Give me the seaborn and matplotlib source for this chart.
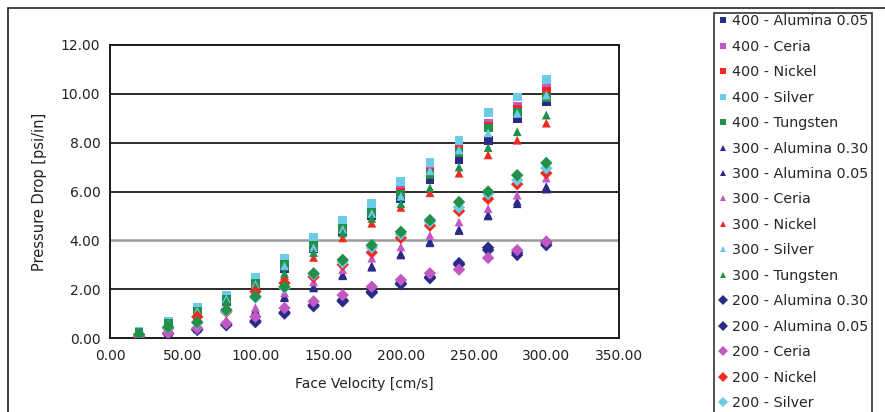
import matplotlib
matplotlib.use("Agg")
import matplotlib.pyplot as plt
import seaborn as sns
import pandas as pd
from matplotlib.patches import Rectangle

velocity = [20, 40, 60, 80, 100, 120, 140, 160, 180, 200, 220, 240, 260, 280, 300]

series_names = [
    "400 - Alumina 0.05", "400 - Ceria", "400 - Nickel", "400 - Silver", "400 - Tungsten",
    "300 - Alumina 0.30", "300 - Alumina 0.05", "300 - Ceria", "300 - Nickel", "300 - Silver", "300 - Tungsten",
    "200 - Alumina 0.30", "200 - Alumina 0.05", "200 - Ceria", "200 - Nickel", "200 - Silver", "200 - Tungsten",
]

s400_alumina005 = [0.22, 0.55, 1.05, 1.50, 2.15, 2.85, 3.65, 4.35, 5.00, 5.70, 6.50, 7.30, 8.10, 9.00, 9.70]
s400_ceria = [0.26, 0.65, 1.20, 1.70, 2.40, 3.15, 3.95, 4.65, 5.30, 6.10, 6.95, 7.90, 8.80, 9.50, 10.30]
s400_nickel = [0.25, 0.62, 1.15, 1.65, 2.30, 3.05, 3.85, 4.55, 5.20, 5.95, 6.80, 7.75, 8.65, 9.35, 10.10]
s400_silver = [0.28, 0.70, 1.27, 1.76, 2.50, 3.28, 4.10, 4.80, 5.50, 6.40, 7.20, 8.10, 9.25, 9.87, 10.60]
s400_tungsten = [0.24, 0.60, 1.10, 1.60, 2.25, 3.00, 3.80, 4.50, 5.15, 5.90, 6.70, 7.60, 8.60, 9.25, 9.85]
s300_alumina030 = [0.07, 0.22, 0.40, 0.70, 1.15, 1.70, 2.10, 2.60, 2.90, 3.40, 3.90, 4.40, 5.05, 5.50, 6.10]
s300_alumina005 = [0.06, 0.20, 0.38, 0.68, 1.10, 1.65, 2.05, 2.55, 2.95, 3.45, 3.95, 4.45, 5.00, 5.60, 6.20]
s300_ceria = [0.08, 0.25, 0.45, 0.75, 1.25, 1.85, 2.30, 2.80, 3.27, 3.73, 4.20, 4.75, 5.30, 5.85, 6.55]
s300_nickel = [0.20, 0.50, 0.90, 1.35, 1.90, 2.55, 3.30, 4.10, 4.70, 5.35, 5.95, 6.75, 7.50, 8.10, 8.80]
s300_silver = [0.24, 0.58, 1.10, 1.60, 2.20, 2.95, 3.70, 4.45, 5.10, 5.80, 6.85, 7.70, 8.40, 9.20, 9.95]
s300_tungsten = [0.22, 0.55, 1.00, 1.50, 2.10, 2.65, 3.50, 4.30, 4.90, 5.50, 6.15, 7.00, 7.80, 8.45, 9.13]
s200_alumina030 = [0.04, 0.18, 0.35, 0.55, 0.65, 1.00, 1.30, 1.50, 1.85, 2.20, 2.45, 3.07, 3.70, 3.40, 3.80]
s200_alumina005 = [0.04, 0.17, 0.33, 0.52, 0.70, 1.05, 1.35, 1.55, 1.90, 2.25, 2.50, 3.00, 3.60, 3.50, 3.90]
s200_ceria = [0.05, 0.20, 0.40, 0.60, 0.87, 1.23, 1.50, 1.76, 2.10, 2.38, 2.65, 2.80, 3.28, 3.60, 3.95]
s200_nickel = [0.13, 0.40, 0.87, 1.07, 1.90, 2.25, 2.50, 3.00, 3.50, 4.10, 4.60, 5.20, 5.70, 6.30, 6.75]
s200_silver = [0.14, 0.42, 0.62, 1.10, 1.65, 2.05, 2.60, 3.10, 3.70, 4.25, 4.75, 5.35, 5.90, 6.47, 6.95]
s200_tungsten = [0.15, 0.45, 0.65, 1.15, 1.70, 2.10, 2.65, 3.20, 3.80, 4.35, 4.83, 5.57, 6.00, 6.67, 7.17]

series_values = [
    s400_alumina005, s400_ceria, s400_nickel, s400_silver, s400_tungsten,
    s300_alumina030, s300_alumina005, s300_ceria, s300_nickel, s300_silver, s300_tungsten,
    s200_alumina030, s200_alumina005, s200_ceria, s200_nickel, s200_silver, s200_tungsten,
]

x_ticks = [0, 50, 100, 150, 200, 250, 300, 350]
y_ticks = [0, 2, 4, 6, 8, 10, 12]

NAVY = "#2a2a88"
MAG = "#c258c4"
RED = "#f22a22"
CYAN = "#6ccbe6"
GREEN = "#22904a"
color_by_material = {"Alumina 0.05": NAVY, "Alumina 0.30": NAVY, "Ceria": MAG,
                     "Nickel": RED, "Silver": CYAN, "Tungsten": GREEN}
marker_by_group = {"400": "s", "300": "^", "200": "D"}

palette = {}
markers = {}
for n in series_names:
    grp, mat = n.split(" - ")
    palette[n] = color_by_material[mat]
    markers[n] = marker_by_group[grp]

rows = []
for n, vals in zip(series_names, series_values):
    for xv, yv in zip(velocity, vals):
        rows.append({"Face Velocity": xv, "Pressure Drop": yv, "Series": n})
df = pd.DataFrame(rows)

sns.set_style("white")
plt.rcParams["font.family"] = ["DejaVu Sans"]

fig = plt.figure(figsize=(8.85, 4.12), dpi=100)
ax = fig.add_axes([110 / 885, 1 - 338 / 412, (619 - 110) / 885, (338 - 45) / 412])

# outer chart border
fig.patches.append(Rectangle((8 / 885, -0.05), 1.0, 1 - 8 / 412 + 0.05, transform=fig.transFigure,
                             fill=False, edgecolor="#222222", linewidth=1.2, zorder=0))
# legend frame (the legend runs past the bottom edge of the picture)
fig.patches.append(Rectangle((714 / 885, -0.05), (872 - 714) / 885, 1 - 13 / 412 + 0.05,
                             transform=fig.transFigure, fill=False, edgecolor="#333333",
                             linewidth=1.2, zorder=0))

for yv in y_ticks[1:-1]:
    ax.axhline(yv, color="#9a9a9a" if yv == 4 else "#1a1a1a", linewidth=1.8 if yv == 4 else 1.3, zorder=1)

sns.scatterplot(data=df, x="Face Velocity", y="Pressure Drop", hue="Series", style="Series",
                hue_order=series_names, style_order=series_names, palette=palette, markers=markers,
                s=40, linewidth=0, ax=ax, zorder=3, legend=True)

ax.set_xlim(0, 350)
ax.set_ylim(0, 12)
ax.set_xticks(x_ticks)
ax.set_xticklabels([f"{v:.2f}" for v in x_ticks])
ax.set_yticks(y_ticks)
ax.set_yticklabels([f"{v:.2f}" for v in y_ticks])
ax.tick_params(axis="both", direction="out", length=4, width=1, color="#111111",
               labelsize=10, labelcolor="#222222", pad=3)
ax.tick_params(axis="x", pad=4)
for sp in ax.spines.values():
    sp.set_visible(True)
    sp.set_color("#1a1a1a")
    sp.set_linewidth(1.4)
ax.set_xlabel("Face Velocity [cm/s]", fontsize=10, color="#222222", labelpad=10)
ax.set_ylabel("Pressure Drop [psi/in]", fontsize=10.5, color="#222222", labelpad=10)

handles, labels = ax.get_legend_handles_labels()
if ax.legend_:
    ax.legend_.remove()
# only the entries that fit inside the picture are visible in the original
n_visible = 16
leg = fig.legend(handles[:n_visible], labels[:n_visible], loc="upper left",
                 bbox_to_anchor=(714 / 885, 1 - 10 / 412),
                 frameon=False, fontsize=10.3, labelspacing=0.8, handlelength=0.6,
                 handletextpad=0.35, borderpad=0.3, borderaxespad=0, markerscale=0.75)

fig.savefig("out.png", dpi=100)
